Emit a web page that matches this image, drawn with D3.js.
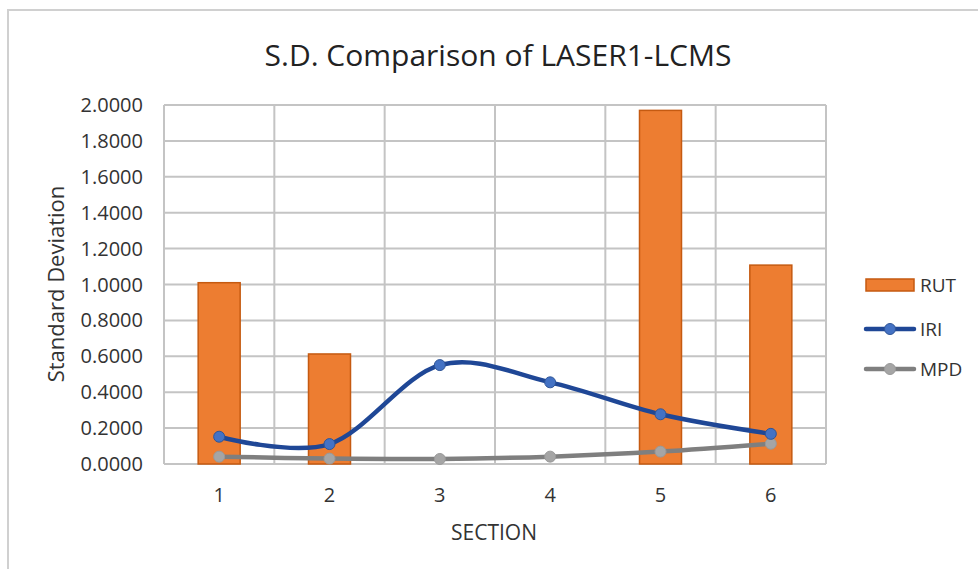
<!DOCTYPE html>
<html>
<head>
<meta charset="utf-8">
<script src="https://cdn.jsdelivr.net/npm/d3@7"></script>
<style>
  body { margin: 0; background: #fff; }
  text { font-family: "Open Sans", "Noto Sans", sans-serif; fill: #333; }
</style>
</head>
<body>
<div id="chart"></div>
<script>
// data
var sections = ["1", "2", "3", "4", "5", "6"];
var rut = [1.010, 0.613, 0, 0, 1.970, 1.108];
var iri = [0.152, 0.111, 0.551, 0.455, 0.277, 0.168];
var mpd = [0.041, 0.030, 0.028, 0.041, 0.069, 0.113];
var yTicks = [0, 0.2, 0.4, 0.6, 0.8, 1.0, 1.2, 1.4, 1.6, 1.8, 2.0];

var W = 978, H = 569;
var plotL = 164, plotR = 826, plotT = 105, plotB = 464;

var svg = d3.select("#chart").append("svg")
    .attr("width", W)
    .attr("height", H);

// outer chart frame (only top and left are in view)
svg.append("path")
    .attr("d", "M8,569 L8,10 L978,10")
    .attr("fill", "none")
    .attr("stroke", "#d0d0d0")
    .attr("stroke-width", 2);

var x = d3.scaleBand()
    .domain(sections)
    .range([plotL, plotR]);

var y = d3.scaleLinear()
    .domain([0, 2])
    .range([plotB, plotT]);

// horizontal gridlines
svg.selectAll(".hgrid")
    .data(yTicks)
    .enter().append("line")
    .attr("class", "hgrid")
    .attr("x1", plotL)
    .attr("x2", plotR)
    .attr("y1", function(d) { return y(d); })
    .attr("y2", function(d) { return y(d); })
    .attr("stroke", "#c4c4c4")
    .attr("stroke-width", 2);

// vertical gridlines at category boundaries
var bounds = sections.map(function(d) { return x(d); }).concat([plotR]);
svg.selectAll(".vgrid")
    .data(bounds)
    .enter().append("line")
    .attr("class", "vgrid")
    .attr("x1", function(d) { return d; })
    .attr("x2", function(d) { return d; })
    .attr("y1", plotT)
    .attr("y2", plotB)
    .attr("stroke", "#c4c4c4")
    .attr("stroke-width", 2);

// y tick labels
svg.selectAll(".ytick")
    .data(yTicks)
    .enter().append("text")
    .attr("class", "ytick")
    .attr("x", 143)
    .attr("y", function(d) { return y(d); })
    .attr("dy", "0.35em")
    .attr("text-anchor", "end")
    .style("font-size", "20px")
    .text(function(d) { return d.toFixed(4); });

// x tick labels
svg.selectAll(".xtick")
    .data(sections)
    .enter().append("text")
    .attr("class", "xtick")
    .attr("x", function(d) { return x(d) + x.bandwidth() / 2; })
    .attr("y", 495)
    .attr("dy", "0.35em")
    .attr("text-anchor", "middle")
    .style("font-size", "20px")
    .text(function(d) { return d; });

// bars
var barW = 42;
svg.selectAll(".bar")
    .data(rut)
    .enter().append("rect")
    .attr("class", "bar")
    .attr("x", function(d, i) { return x(sections[i]) + x.bandwidth() / 2 - barW / 2; })
    .attr("y", function(d) { return y(d); })
    .attr("width", barW)
    .attr("height", function(d) { return plotB - y(d); })
    .attr("fill", "#ed7d31")
    .attr("stroke", function(d) { return d > 0 ? "#c55a11" : "none"; })
    .attr("stroke-width", 1.5);

// smoothed lines like Excel
var line = d3.line()
    .x(function(d, i) { return x(sections[i]) + x.bandwidth() / 2; })
    .y(function(d) { return y(d); })
    .curve(d3.curveCatmullRom.alpha(0));

function drawSeries(vals, lineColor, dotFill, dotStroke) {
    svg.append("path")
        .datum(vals)
        .attr("d", line)
        .attr("fill", "none")
        .attr("stroke", lineColor)
        .attr("stroke-width", 4.5)
        .attr("stroke-linecap", "round");
    svg.selectAll(null)
        .data(vals)
        .enter().append("circle")
        .attr("cx", function(d, i) { return x(sections[i]) + x.bandwidth() / 2; })
        .attr("cy", function(d) { return y(d); })
        .attr("r", 5.5)
        .attr("fill", dotFill)
        .attr("stroke", dotStroke)
        .attr("stroke-width", 1);
}
drawSeries(mpd, "#7f7f7f", "#a5a5a5", "#999999");
drawSeries(iri, "#1f4796", "#4472c4", "#2f5597");

// title
svg.append("text")
    .attr("x", 498)
    .attr("y", 55)
    .attr("dy", "0.35em")
    .attr("text-anchor", "middle")
    .style("font-size", "30px")
    .style("fill", "#222")
    .text("S.D. Comparison of LASER1-LCMS");

// axis titles
svg.append("text")
    .attr("x", 494)
    .attr("y", 533)
    .attr("dy", "0.35em")
    .attr("text-anchor", "middle")
    .style("font-size", "21px")
    .text("SECTION");

svg.append("text")
    .attr("transform", "translate(64,284) rotate(-90)")
    .attr("text-anchor", "middle")
    .style("font-size", "22px")
    .text("Standard Deviation");

// legend
var legend = svg.append("g");
legend.append("rect")
    .attr("x", 866).attr("y", 279)
    .attr("width", 48).attr("height", 12)
    .attr("fill", "#ed7d31")
    .attr("stroke", "#c55a11")
    .attr("stroke-width", 1.5);
legend.append("text")
    .attr("x", 920).attr("y", 285).attr("dy", "0.35em")
    .style("font-size", "19px")
    .text("RUT");

var legendLines = [
    { name: "IRI", y: 329, line: "#1f4796", fill: "#4472c4", stroke: "#2f5597" },
    { name: "MPD", y: 369, line: "#7f7f7f", fill: "#a5a5a5", stroke: "#999999" }
];
legendLines.forEach(function(l) {
    legend.append("line")
        .attr("x1", 866).attr("x2", 914)
        .attr("y1", l.y).attr("y2", l.y)
        .attr("stroke", l.line)
        .attr("stroke-width", 4.5)
        .attr("stroke-linecap", "round");
    legend.append("circle")
        .attr("cx", 890).attr("cy", l.y).attr("r", 5.5)
        .attr("fill", l.fill)
        .attr("stroke", l.stroke);
    legend.append("text")
        .attr("x", 920).attr("y", l.y).attr("dy", "0.35em")
        .style("font-size", "19px")
        .text(l.name);
});
</script>
</body>
</html>
